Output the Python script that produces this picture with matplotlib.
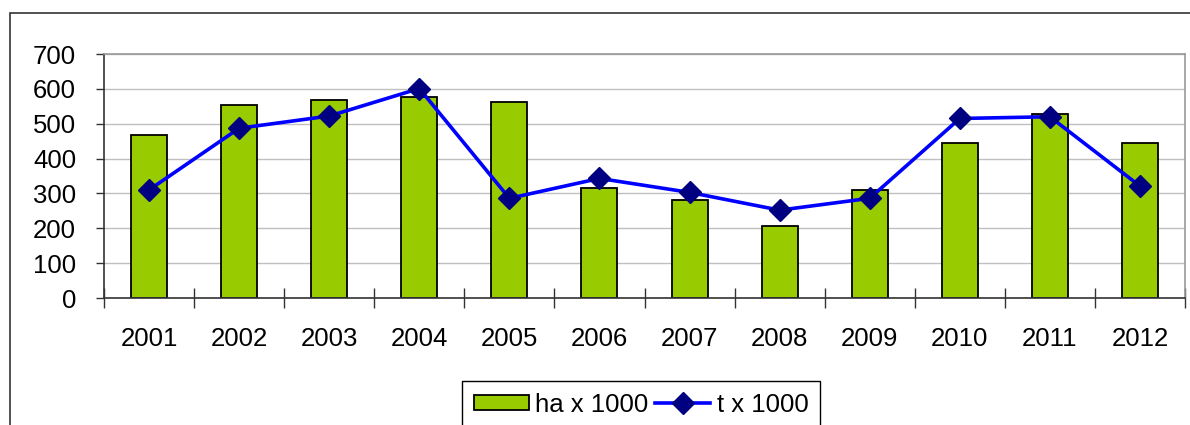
import matplotlib.pyplot as plt
from matplotlib.patches import Rectangle

plt.rcParams['font.family'] = ['Liberation Sans', 'DejaVu Sans']

# data
years = ['2001', '2002', '2003', '2004', '2005', '2006',
         '2007', '2008', '2009', '2010', '2011', '2012']
ha = [469, 555, 568, 577, 561, 315, 281, 207, 309, 446, 528, 446]
t = [310, 487, 522, 601, 286, 343, 303, 252, 286, 515, 520, 321]
yticks = [0, 100, 200, 300, 400, 500, 600, 700]

W, H = 1190, 425
fig = plt.figure(figsize=(W / 100, H / 100), dpi=100)

# outer chart border (cut off at right and bottom)
fig.patches.append(Rectangle((10 / W, -0.2), 1.2, 1.2 - 13 / H, transform=fig.transFigure,
                             fill=False, edgecolor='#333333', linewidth=1.2))

ax = fig.add_axes([104 / W, 1 - 298 / H, (1185 - 104) / W, (298 - 54) / H])
x = list(range(len(years)))

bars = ax.bar(x, ha, width=0.4, color='#99CC00', edgecolor='black', linewidth=1.3,
              label='ha x 1000', zorder=2)
line, = ax.plot(x, t, color='#0000FF', linewidth=2.6, marker='D', markersize=11,
                markerfacecolor='#000080', markeredgecolor='#000080',
                label='t x 1000', zorder=3)

ax.set_xlim(-0.5, len(years) - 0.5)
ax.set_ylim(0, 700)
ax.set_yticks(yticks)
ax.set_yticklabels([str(v) for v in yticks])
ax.set_xticks(x)
ax.set_xticklabels(years)
ax.set_xticks([i - 0.5 for i in range(len(years) + 1)], minor=True)

ax.tick_params(axis='y', direction='out', length=6, width=1, pad=14,
               labelsize=18.5, color='#333333')
ax.tick_params(axis='x', which='major', length=0, pad=21, labelsize=18.5)
ax.tick_params(axis='x', which='minor', direction='inout', length=14, width=1,
               color='#333333')

ax.yaxis.grid(True, color='#c0c0c0', linewidth=1)
ax.set_axisbelow(True)
for side in ['left', 'bottom']:
    ax.spines[side].set_color('#333333')
    ax.spines[side].set_linewidth(1.2)
for side in ['top', 'right']:
    ax.spines[side].set_color('#999999')
    ax.spines[side].set_linewidth(1.2)

leg = fig.legend([bars, line], ['ha x 1000', 't x 1000'],
                 loc='upper left', bbox_to_anchor=(462 / W, 1 - 381 / H),
                 ncol=2, fontsize=18.5, frameon=True, fancybox=False,
                 edgecolor='black', framealpha=1, handlelength=2.15,
                 handleheight=0.55, columnspacing=0.25, handletextpad=0.25,
                 borderpad=0.45, borderaxespad=0)
leg.get_frame().set_linewidth(1)

fig.savefig('out.png', dpi=100)
